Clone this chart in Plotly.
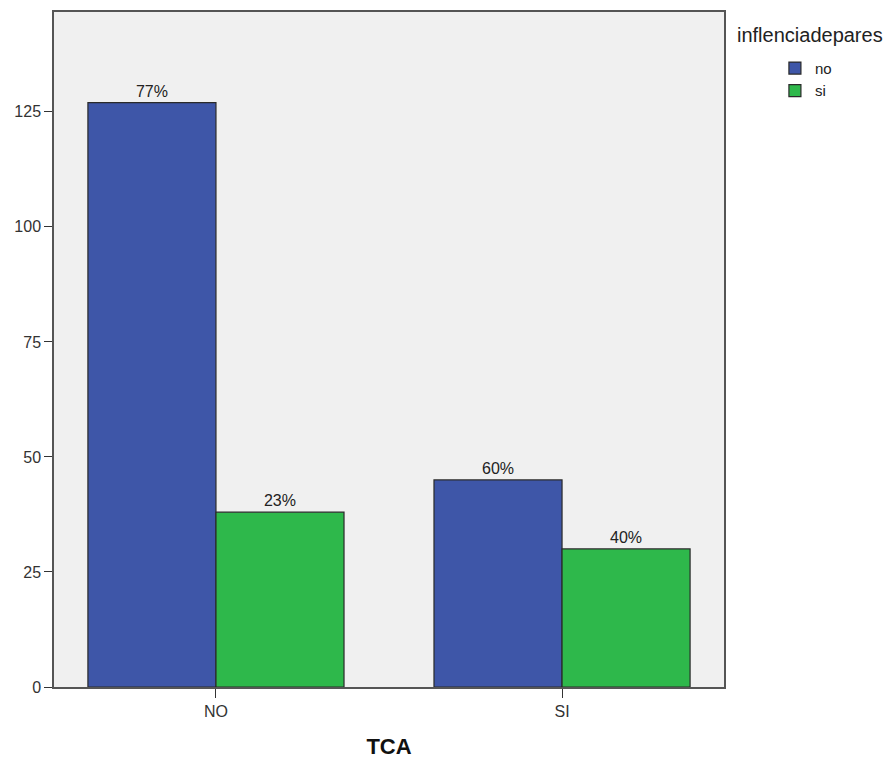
import plotly.graph_objects as go

categories = ["NO", "SI"]
series_names = ["no", "si"]
values_no = [127, 45]
values_si = [38, 30]
labels_no = ["77%", "60%"]
labels_si = ["23%", "40%"]
y_ticks = [0, 25, 50, 75, 100, 125]

colors = {"no": "#3e56a8", "si": "#2eb84b"}
FONT = "Liberation Sans, Arial, sans-serif"

fig = go.Figure()
for name, vals, labs in [("no", values_no, labels_no), ("si", values_si, labels_si)]:
    fig.add_trace(go.Bar(
        x=categories, y=vals, name=name, text=labs,
        textposition="outside", cliponaxis=False,
        textfont=dict(size=16, color="#222", family=FONT),
        marker=dict(color=colors[name], line=dict(color="#2a2a2a", width=1.2)),
    ))

fig.update_layout(
    width=883, height=751,
    margin=dict(l=46, r=167, t=4, b=72),
    barmode="group", bargap=0.26, bargroupgap=0,
    plot_bgcolor="#f0f0f0", paper_bgcolor="white",
    font=dict(family=FONT, size=16, color="#333"),
    showlegend=True,
    legend=dict(x=1.076, y=0.941, xanchor="left", yanchor="top",
                font=dict(size=15, color="#222", family=FONT),
                bgcolor="rgba(0,0,0,0)", tracegroupgap=0, itemwidth=30),
    annotations=[dict(text="inflenciadepares", xref="paper", yref="paper",
                      x=1.016, y=0.966, xanchor="left", yanchor="middle",
                      showarrow=False, font=dict(size=20, color="#222", family=FONT))],
)
fig.update_xaxes(
    type="category", range=[-0.468, 1.468], automargin=False,
    showline=True, linecolor="#555", linewidth=1.5, mirror=True,
    ticks="outside", ticklen=9, tickcolor="#333",
    tickfont=dict(size=16, color="#333"),
    showgrid=False,
    title=dict(text="<b>TCA</b>", font=dict(size=22, color="#111"), standoff=23),
)
fig.update_yaxes(
    range=[0, 146.7], tickvals=y_ticks, automargin=False,
    showline=True, linecolor="#555", linewidth=1.5, mirror=True,
    ticks="outside", ticklen=8, tickcolor="#333",
    tickfont=dict(size=16, color="#333"),
    showgrid=False, zeroline=False,
)

fig.write_html("out.html")
